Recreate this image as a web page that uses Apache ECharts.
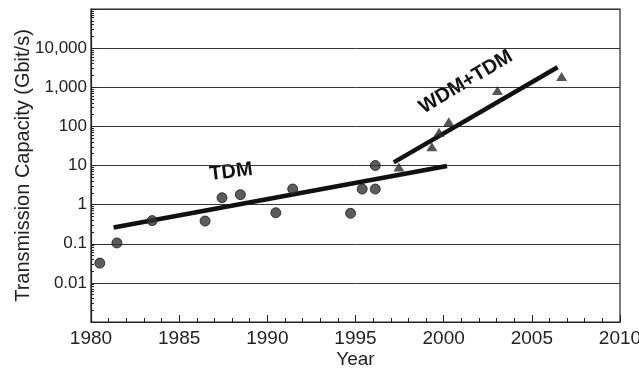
<!DOCTYPE html>
<html>
<head>
<meta charset="utf-8">
<script src="https://cdn.jsdelivr.net/npm/echarts@6/dist/echarts.min.js"></script>
<style>
html,body{margin:0;padding:0;background:#fff;}
#chart{width:639px;height:368px;}
</style>
</head>
<body>
<div id="chart"></div>
<script>
// TDM data points (year, Gbit/s)
const tdmYears = [1980.5, 1981.47, 1983.47, 1986.47, 1987.43, 1988.47, 1990.48, 1991.44, 1994.72, 1995.38, 1996.12, 1996.12];
const tdmValues = [0.032, 0.105, 0.39, 0.38, 1.5, 1.8, 0.62, 2.5, 0.6, 2.5, 2.5, 10];
// WDM+TDM data points
const wdmYears = [1997.46, 1999.33, 1999.74, 2000.29, 2003.05, 2006.69];
const wdmValues = [9.1, 30, 71, 132, 820, 1870];
// Trend lines (endpoints)
const tdmLineYears = [1981.28, 2000.19];
const tdmLineValues = [0.26, 9.7];
const wdmLineYears = [1997.17, 2006.46];
const wdmLineValues = [12, 3250];
// Axis labels
const yTickLabels = {"0.01":"0.01","0.1":"0.1","1":"1","10":"10","100":"100","1000":"1,000","10000":"10,000"};

const zip = (xs, ys) => xs.map((x, i) => [x, ys[i]]);
const FONT = 'Liberation Sans, Arial, sans-serif';
const chart = echarts.init(document.getElementById('chart'));
chart.setOption({
  animation: false,
  backgroundColor: '#fff',
  grid: {left: 91, right: 19, top: 9, bottom: 46, outerBoundsMode: 'none', containLabel: false,
         show: true, borderColor: '#222', borderWidth: 1.2},
  xAxis: {
    type: 'value', min: 1980, max: 2010, interval: 5,
    name: 'Year', nameLocation: 'middle', nameGap: 28, nameMoveOverlap: false,
    nameTextStyle: {fontFamily: FONT, fontSize: 19, color: '#222'},
    axisLine: {show: true, lineStyle: {color: '#222', width: 1.2}},
    axisTick: {show: true, inside: true, length: 7, lineStyle: {color: '#222'}},
    minorTick: {show: true, splitNumber: 5, length: 4, lineStyle: {color: '#222'}},
    axisLabel: {fontFamily: FONT, fontSize: 19, color: '#222', margin: 7, formatter: v => String(v)},
    splitLine: {show: false}
  },
  yAxis: {
    type: 'log', logBase: 10, min: 0.001, max: 100000,
    name: 'Transmission Capacity (Gbit/s)', nameLocation: 'middle', nameGap: 58, nameMoveOverlap: false,
    nameTextStyle: {fontFamily: FONT, fontSize: 20, color: '#222'},
    axisLine: {show: true, lineStyle: {color: '#222', width: 1.2}},
    axisTick: {show: true, inside: true, length: 6, lineStyle: {color: '#222'}},
    minorTick: {show: true, splitNumber: 9, length: 3, lineStyle: {color: '#222'}},
    axisLabel: {
      fontFamily: FONT, fontSize: 17, color: '#222', margin: 4,
      formatter: v => { const k = String(+v.toPrecision(3)); return yTickLabels[k] || ''; }
    },
    splitLine: {show: true, lineStyle: {color: '#333', width: 1}}
  },
  series: [
    {type: 'line', data: zip(tdmLineYears, tdmLineValues), symbol: 'none', lineStyle: {color: '#111', width: 4.5}, z: 3},
    {type: 'line', data: zip(wdmLineYears, wdmLineValues), symbol: 'none', lineStyle: {color: '#111', width: 4.5}, z: 3},
    {type: 'scatter', data: zip(tdmYears, tdmValues), symbol: 'circle', symbolSize: 10,
     itemStyle: {color: '#333', borderColor: '#1a1a1a', borderWidth: 1}, z: 4},
    {type: 'scatter', data: zip(wdmYears, wdmValues), symbol: 'triangle', symbolSize: [11, 9],
     itemStyle: {color: '#2a2a2a'}, z: 4}
  ],
  graphic: [
    {type: 'text', x: 231, y: 172, rotation: 7 * Math.PI / 180,
     style: {text: 'TDM', fontFamily: FONT, fontSize: 20, fontWeight: 'bold', fill: '#111', align: 'center', verticalAlign: 'middle'}},
    {type: 'text', x: 466, y: 82, rotation: 31 * Math.PI / 180,
     style: {text: 'WDM+TDM', fontFamily: FONT, fontSize: 20, fontWeight: 'bold', fill: '#111', align: 'center', verticalAlign: 'middle'}}
  ]
});
</script>
</body>
</html>
